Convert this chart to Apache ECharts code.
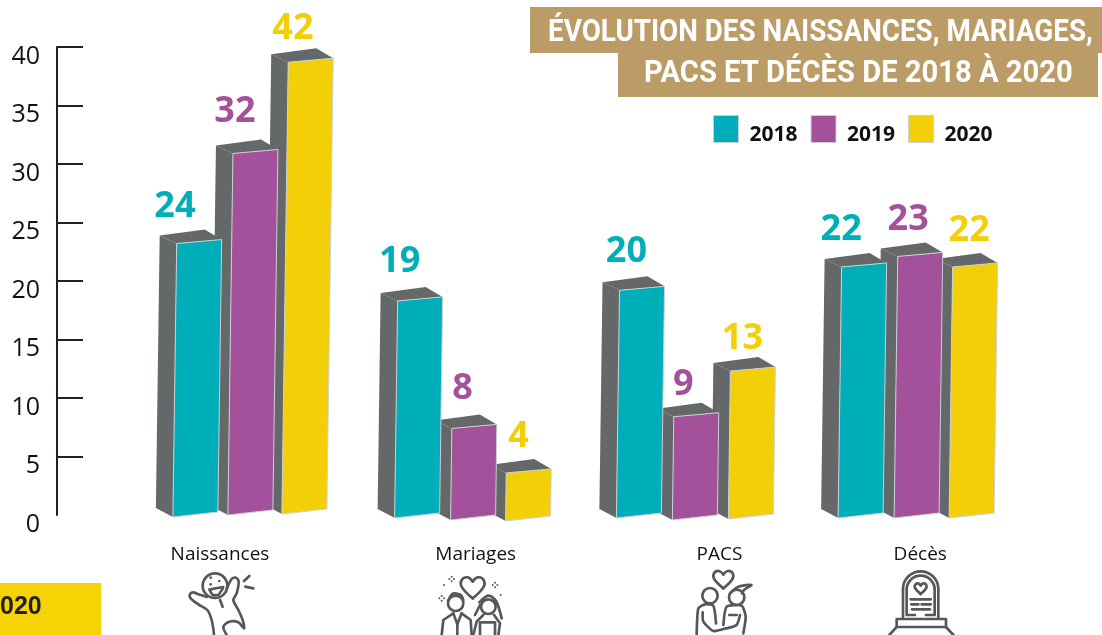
<!DOCTYPE html>
<html>
<head>
<meta charset="utf-8">
<title>Évolution des naissances, mariages, PACS et décès</title>
<script src="https://cdn.jsdelivr.net/npm/echarts@6/dist/echarts.min.js"></script>
<style>
  html, body { margin: 0; padding: 0; background: #fff; }
  #chart { width: 1102px; height: 635px; }
</style>
</head>
<body>
<div id="chart"></div>
<script>
const categories = ["Naissances", "Mariages", "PACS", "Décès"];
const years = ["2018", "2019", "2020"];
const yTicks = [5, 10, 15, 20, 25, 30, 35, 40];

// values printed above the bars
const printed2018 = [24, 19, 20, 22];
const printed2019 = [32, 8, 9, 23];
const printed2020 = [42, 4, 13, 22];

// the bars do not quite follow their printed figures, so the heights are read off the axis
const height2018 = [23.2, 18.3, 19.2, 21.2];
const height2019 = [30.9, 7.4, 8.4, 22.1];
const height2020 = [38.7, 3.6, 12.3, 21.2];

const colors = { "2018": "#00aeba", "2019": "#a4519b", "2020": "#f2cf06" };
const GRAY = "#656869";
const EDGE = "#ccd0d6";
const INK = "#55585a";
const FONT = "'Open Sans', sans-serif";

// layout in px, per year then per category
const barShift = [[-72, -72, -72, -72], [-17, -16, -16, -16], [37, 39, 40, 39]];
const footDrop = [[2, 3, 3, 3], [0, 5, 5, 3], [-1, 6, 4, 3]];
const labelDx = [[-70, -67, -62, -69], [-10, -4, -5, -2], [48, 52, 54, 59]];
const labelDy = [[-37, -39, -39, -37], [-42, -40, -32, -37], [-33, -36, -32, -36]];
const categoryShift = [-25, 9, 31, 10];

const chart = echarts.init(document.getElementById("chart"));

function barSeries(idx, heights, printed) {
  const year = years[idx];
  return {
    name: year,
    type: "custom",
    coordinateSystem: "cartesian2d",
    clip: false,
    z: 10 - idx,
    itemStyle: { color: colors[year], borderColor: EDGE, borderWidth: 1 },
    data: heights.map((h, i) => [i, h, printed[i]]),
    encode: { x: 0, y: 1 },
    renderItem: function (params, api) {
      const cat = api.value(0);
      const top = api.coord([cat, api.value(1)]);
      const base = api.coord([cat, 0]);
      const foot = footDrop[idx][cat];
      const w = 45;
      const lean = (base[1] - top[1]) * 0.014;
      const bl = [base[0] + barShift[idx][cat], base[1] + foot];
      const br = [bl[0] + w, bl[1] - 5];
      const tl = [bl[0] + lean, top[1]];
      const tr = [tl[0] + w, tl[1] - 4];
      const side = [[bl[0] - 17, bl[1] - 9], [tl[0] - 17, tl[1] - 8], tl, bl];
      const cap = [[tl[0] - 17, tl[1] - 8], [tl[0] + w - 17, tl[1] - 14], tr, tl];
      return {
        type: "group",
        children: [
          { type: "polygon", shape: { points: side }, style: { fill: GRAY } },
          { type: "polygon", shape: { points: cap }, style: { fill: GRAY } },
          {
            type: "polygon",
            shape: { points: [bl, tl, tr, br] },
            style: { fill: colors[year], stroke: EDGE, lineWidth: 1 }
          },
          {
            type: "text",
            z2: 50,
            style: {
              text: String(api.value(2)),
              x: base[0] + labelDx[idx][cat],
              y: top[1] + labelDy[idx][cat],
              fill: colors[year],
              font: "bold 36px " + FONT,
              align: "center",
              verticalAlign: "middle"
            }
          }
        ]
      };
    }
  };
}

// line icons under the categories, drawn at 3x and scaled down
function line(points, smooth) {
  return {
    type: "polyline",
    shape: { points: points, smooth: smooth || 0 },
    style: { stroke: INK, lineWidth: 8, fill: null, lineJoin: "round", lineCap: "round" }
  };
}
function ring(cx, cy, r) {
  return {
    type: "circle",
    shape: { cx: cx, cy: cy, r: r },
    style: { stroke: INK, lineWidth: 8, fill: null }
  };
}
function dot(cx, cy, r) {
  return { type: "circle", shape: { cx: cx, cy: cy, r: r || 3 }, style: { fill: INK } };
}
function arch(cx, cy, r) {
  return {
    type: "arc",
    shape: { cx: cx, cy: cy, r: r, startAngle: Math.PI, endAngle: 2 * Math.PI },
    style: { stroke: INK, lineWidth: 8, fill: null }
  };
}
function heart(cx, top, w, h) {
  return [
    line([[cx, top + h], [cx - w * 0.42, top + h * 0.48], [cx - w * 0.44, top + h * 0.14], [cx - w * 0.2, top], [cx, top + h * 0.2]], 0.4),
    line([[cx, top + h], [cx + w * 0.42, top + h * 0.48], [cx + w * 0.44, top + h * 0.14], [cx + w * 0.2, top], [cx, top + h * 0.2]], 0.4)
  ];
}
function sparkle(cx, cy) {
  return [dot(cx - 7, cy), dot(cx + 7, cy), dot(cx, cy - 7), dot(cx, cy + 7)];
}
function icon(x, y, children) {
  return { type: "group", x: x, y: y, scaleX: 1 / 3, scaleY: 1 / 3, children: children };
}

const babyIcon = icon(170, 565, [
  ring(135, 62, 37),
  line([[110, 96], [85, 88], [70, 82], [60, 88], [62, 100], [85, 118], [112, 135], [125, 165], [132, 208]], 0.3),
  line([[170, 72], [185, 42], [198, 38], [206, 50], [200, 85], [190, 105], [205, 135], [218, 165], [222, 190], [205, 172], [178, 170], [160, 185], [170, 210]], 0.3),
  line([[118, 74], [128, 90], [145, 90], [160, 66], [118, 74]], 0.1),
  dot(122, 58, 4), dot(148, 48, 4), dot(122, 38, 4),
  line([[150, 105], [158, 125]]),
  line([[222, 48], [238, 33]]),
  line([[226, 65], [250, 70]])
]);

const coupleIcon = icon(420, 565, [
  ...heart(158, 37, 76, 63),
  ring(107, 115, 23),
  line([[84, 108], [98, 86], [122, 90], [130, 106]], 0.3),
  line([[65, 210], [70, 165], [100, 145]]),
  line([[125, 145], [152, 165], [155, 210]]),
  line([[100, 145], [112, 178], [125, 145]]),
  line([[112, 178], [112, 210]]),
  ring(205, 125, 22),
  line([[178, 112], [205, 92], [228, 108], [245, 160]], 0.3),
  line([[180, 120], [165, 150]]),
  line([[160, 210], [170, 170], [190, 150]]),
  line([[222, 150], [240, 175], [235, 210]]),
  line([[180, 210], [180, 172], [225, 172], [225, 210]]),
  ...sparkle(95, 42), ...sparkle(65, 100), ...sparkle(225, 60),
  dot(72, 60), dot(242, 90)
]);

const pacsIcon = icon(680, 565, [
  ...heart(130, 18, 64, 52),
  ring(90, 92, 23),
  line([[50, 210], [55, 130], [75, 118], [100, 122], [108, 175]], 0.2),
  line([[68, 142], [70, 170], [100, 198], [138, 190]], 0.2),
  ring(170, 97, 23),
  line([[150, 85], [175, 65], [214, 60], [192, 75], [186, 85]], 0.3),
  line([[130, 180], [140, 125], [185, 122], [197, 155], [190, 205]], 0.2),
  line([[140, 190], [170, 180], [180, 150]], 0.2),
  line([[148, 150], [170, 150]])
]);

const graveIcon = icon(870, 565, [
  arch(152, 72, 53),
  arch(152, 74, 42),
  line([[99, 72], [99, 160]]),
  line([[205, 72], [205, 160]]),
  line([[110, 74], [110, 150], [135, 150]]),
  line([[194, 74], [194, 150], [168, 150]]),
  ...heart(152, 55, 38, 32),
  line([[122, 103], [182, 103]]),
  line([[124, 118], [145, 118]]),
  line([[155, 118], [182, 118]]),
  line([[126, 133], [180, 133]]),
  line([[80, 162], [228, 162], [228, 186], [80, 186], [80, 162]]),
  line([[80, 186], [56, 212]]),
  line([[228, 186], [252, 212]])
]);

const option = {
  animation: false,
  backgroundColor: "#fff",
  textStyle: { fontFamily: FONT },
  grid: { left: 134, right: 81, top: 47, bottom: 120 },
  legend: {
    left: 713,
    top: 115,
    padding: 0,
    icon: "rect",
    itemWidth: 25,
    itemHeight: 27,
    itemGap: 13,
    itemStyle: { borderColor: EDGE, borderWidth: 1 },
    data: years,
    formatter: "{t|{name}}",
    textStyle: {
      rich: {
        t: {
          fontFamily: FONT,
          fontWeight: "bold",
          fontSize: 21,
          color: "#111",
          padding: [12, 0, 0, 6]
        }
      }
    }
  },
  xAxis: {
    type: "category",
    data: categories,
    axisLine: { show: false },
    axisTick: { show: false },
    axisLabel: { show: false }
  },
  yAxis: {
    type: "value",
    min: 0,
    max: 40,
    interval: 5,
    position: "left",
    offset: 77,
    splitLine: { show: false },
    axisLine: { show: true, lineStyle: { color: "#231f20", width: 2 } },
    axisTick: {
      show: true,
      inside: true,
      length: 26,
      customValues: yTicks,
      lineStyle: { color: "#231f20", width: 2 }
    },
    axisLabel: {
      color: "#111",
      fontFamily: FONT,
      fontSize: 25,
      margin: 17,
      verticalAlign: "top",
      lineHeight: 19
    }
  },
  series: [
    barSeries(2, height2020, printed2020),
    barSeries(1, height2019, printed2019),
    barSeries(0, height2018, printed2018)
  ],
  graphic: [
    { type: "rect", shape: { x: 530, y: 7, width: 572, height: 46 }, style: { fill: "#bc9c66" } },
    { type: "rect", shape: { x: 618, y: 53, width: 480, height: 44 }, style: { fill: "#bc9c66" } },
    {
      type: "text", x: 548, y: 33, scaleX: 0.897,
      style: { text: "ÉVOLUTION DES NAISSANCES, MARIAGES,", fill: "#fff", font: "bold 31px Roboto", verticalAlign: "middle" }
    },
    {
      type: "text", x: 644, y: 74, scaleX: 0.941,
      style: { text: "PACS ET DÉCÈS DE 2018 À 2020", fill: "#fff", font: "bold 31px Roboto", verticalAlign: "middle" }
    },
    { type: "rect", shape: { x: 0, y: 583, width: 101, height: 52 }, style: { fill: "#f5d305" } },
    {
      type: "text", x: 0, y: 607,
      style: { text: "020", fill: "#231f20", font: "bold 25px 'Liberation Sans'", verticalAlign: "middle" }
    },
    babyIcon, coupleIcon, pacsIcon, graveIcon
  ].concat(categories.map((c, i) => ({
    type: "text",
    x: 245 + i * 221.75 + categoryShift[i],
    y: 555,
    style: { text: c, fill: "#111", font: "19px " + FONT, align: "center", verticalAlign: "middle" }
  })))
};

chart.setOption(option);
</script>
</body>
</html>
